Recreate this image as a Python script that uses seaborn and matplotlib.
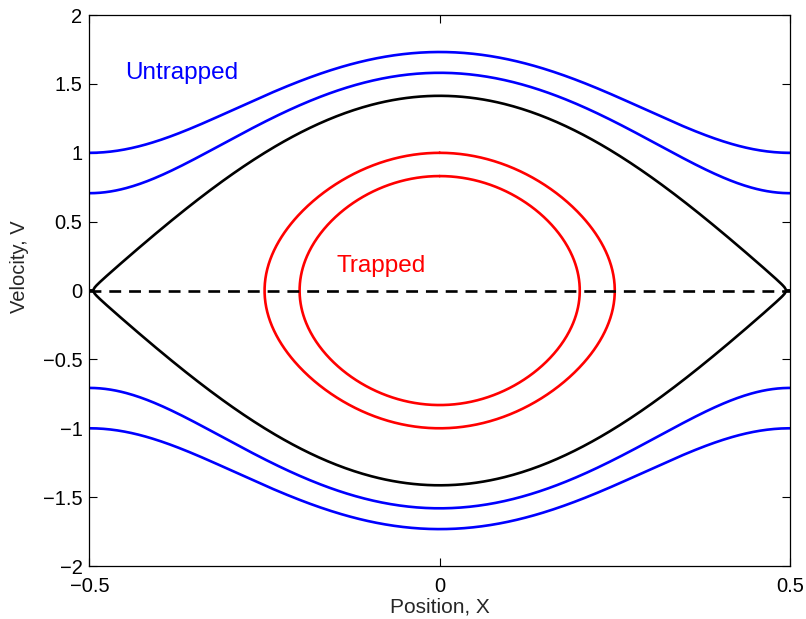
import numpy as np
import pandas as pd
import matplotlib
matplotlib.use("Agg")
import matplotlib.pyplot as plt
import seaborn as sns

# Phase-space orbits for H = V^2/2 + sin^2(pi X)
untrapped_edge_v = [1.0, 0.707]      # |V| at X = +-0.5 for the passing orbits
separatrix_peak_v = [1.414]          # |V| at X = 0 on the separatrix
trapped_turn_x = [0.25, 0.20]        # turning points of the trapped orbits
x_ticks = [-0.5, 0, 0.5]
y_ticks = [-2, -1.5, -1, -0.5, 0, 0.5, 1, 1.5, 2]

xs = np.linspace(-0.5, 0.5, 401)
theta = np.linspace(0, 2 * np.pi, 721)

rows = []
cid = 0
for v_edge in untrapped_edge_v:
    h = v_edge ** 2 / 2 + 1.0
    v = np.sqrt(2 * (h - np.sin(np.pi * xs) ** 2))
    for sgn in (1, -1):
        rows.append(pd.DataFrame({"X": xs, "V": sgn * v, "curve": f"u{cid}", "kind": "untrapped"}))
        cid += 1
for vp in separatrix_peak_v:
    h = vp ** 2 / 2
    v = np.sqrt(np.clip(2 * (h - np.sin(np.pi * xs) ** 2), 0, None))
    for sgn in (1, -1):
        rows.append(pd.DataFrame({"X": xs, "V": sgn * v, "curve": f"s{cid}", "kind": "separatrix"}))
        cid += 1
for xt in trapped_turn_x:
    h = np.sin(np.pi * xt) ** 2
    xx = np.arcsin(np.sqrt(h) * np.sin(theta)) / np.pi
    vv = np.sqrt(2 * h) * np.cos(theta)
    rows.append(pd.DataFrame({"X": xx, "V": vv, "curve": f"t{cid}", "kind": "trapped"}))
    cid += 1
df = pd.concat(rows, ignore_index=True)

sns.set_style("ticks")
plt.rcParams["font.family"] = ["Liberation Sans", "DejaVu Sans"]
plt.rcParams["axes.unicode_minus"] = True

fig = plt.figure(figsize=(8.06, 6.19), dpi=100)
ax = fig.add_axes([0.111, 0.0856, 0.869, 0.890])

palette = {"untrapped": "#0000ff", "separatrix": "#000000", "trapped": "#ff0000"}
for curve, sub in df.groupby("curve", sort=False):
    sns.lineplot(data=sub, x="X", y="V", sort=False, estimator=None,
                 color=palette[sub["kind"].iloc[0]], linewidth=1.9, ax=ax,
                 legend=False)

ax.plot([-0.5, 0.5], [0, 0], color="black", linestyle=(0, (4.5, 3.0)), linewidth=1.9)

ax.set_xlim(-0.5, 0.5)
ax.set_ylim(-2, 2)
ax.set_xticks(x_ticks)
ax.set_xticklabels(["\u22120.5", "0", "0.5"])
ax.set_yticks(y_ticks)
ax.set_yticklabels([("\u2212" + f"{abs(t):g}") if t < 0 else f"{t:g}" for t in y_ticks])
ax.tick_params(direction="in", length=6, width=0.8, labelsize=14.5, colors="black",
               top=True, right=True, pad=5)
ax.tick_params(axis="x", pad=8)
for s in ax.spines.values():
    s.set_visible(True)
    s.set_linewidth(0.9)
    s.set_color("black")

ax.set_xlabel("Position, X", fontsize=15)
ax.set_ylabel("Velocity, V", fontsize=14.5)
ax.xaxis.set_label_coords(0.5, -0.058)
ax.yaxis.set_label_coords(-0.087, 0.544)

ax.text(-0.449, 1.535, "Untrapped", color="#0000ff", fontsize=17.5, va="baseline")
ax.text(-0.148, 0.137, "Trapped", color="#ff0000", fontsize=17.5, va="baseline")

fig.savefig("out.png", dpi=100, facecolor="white")
